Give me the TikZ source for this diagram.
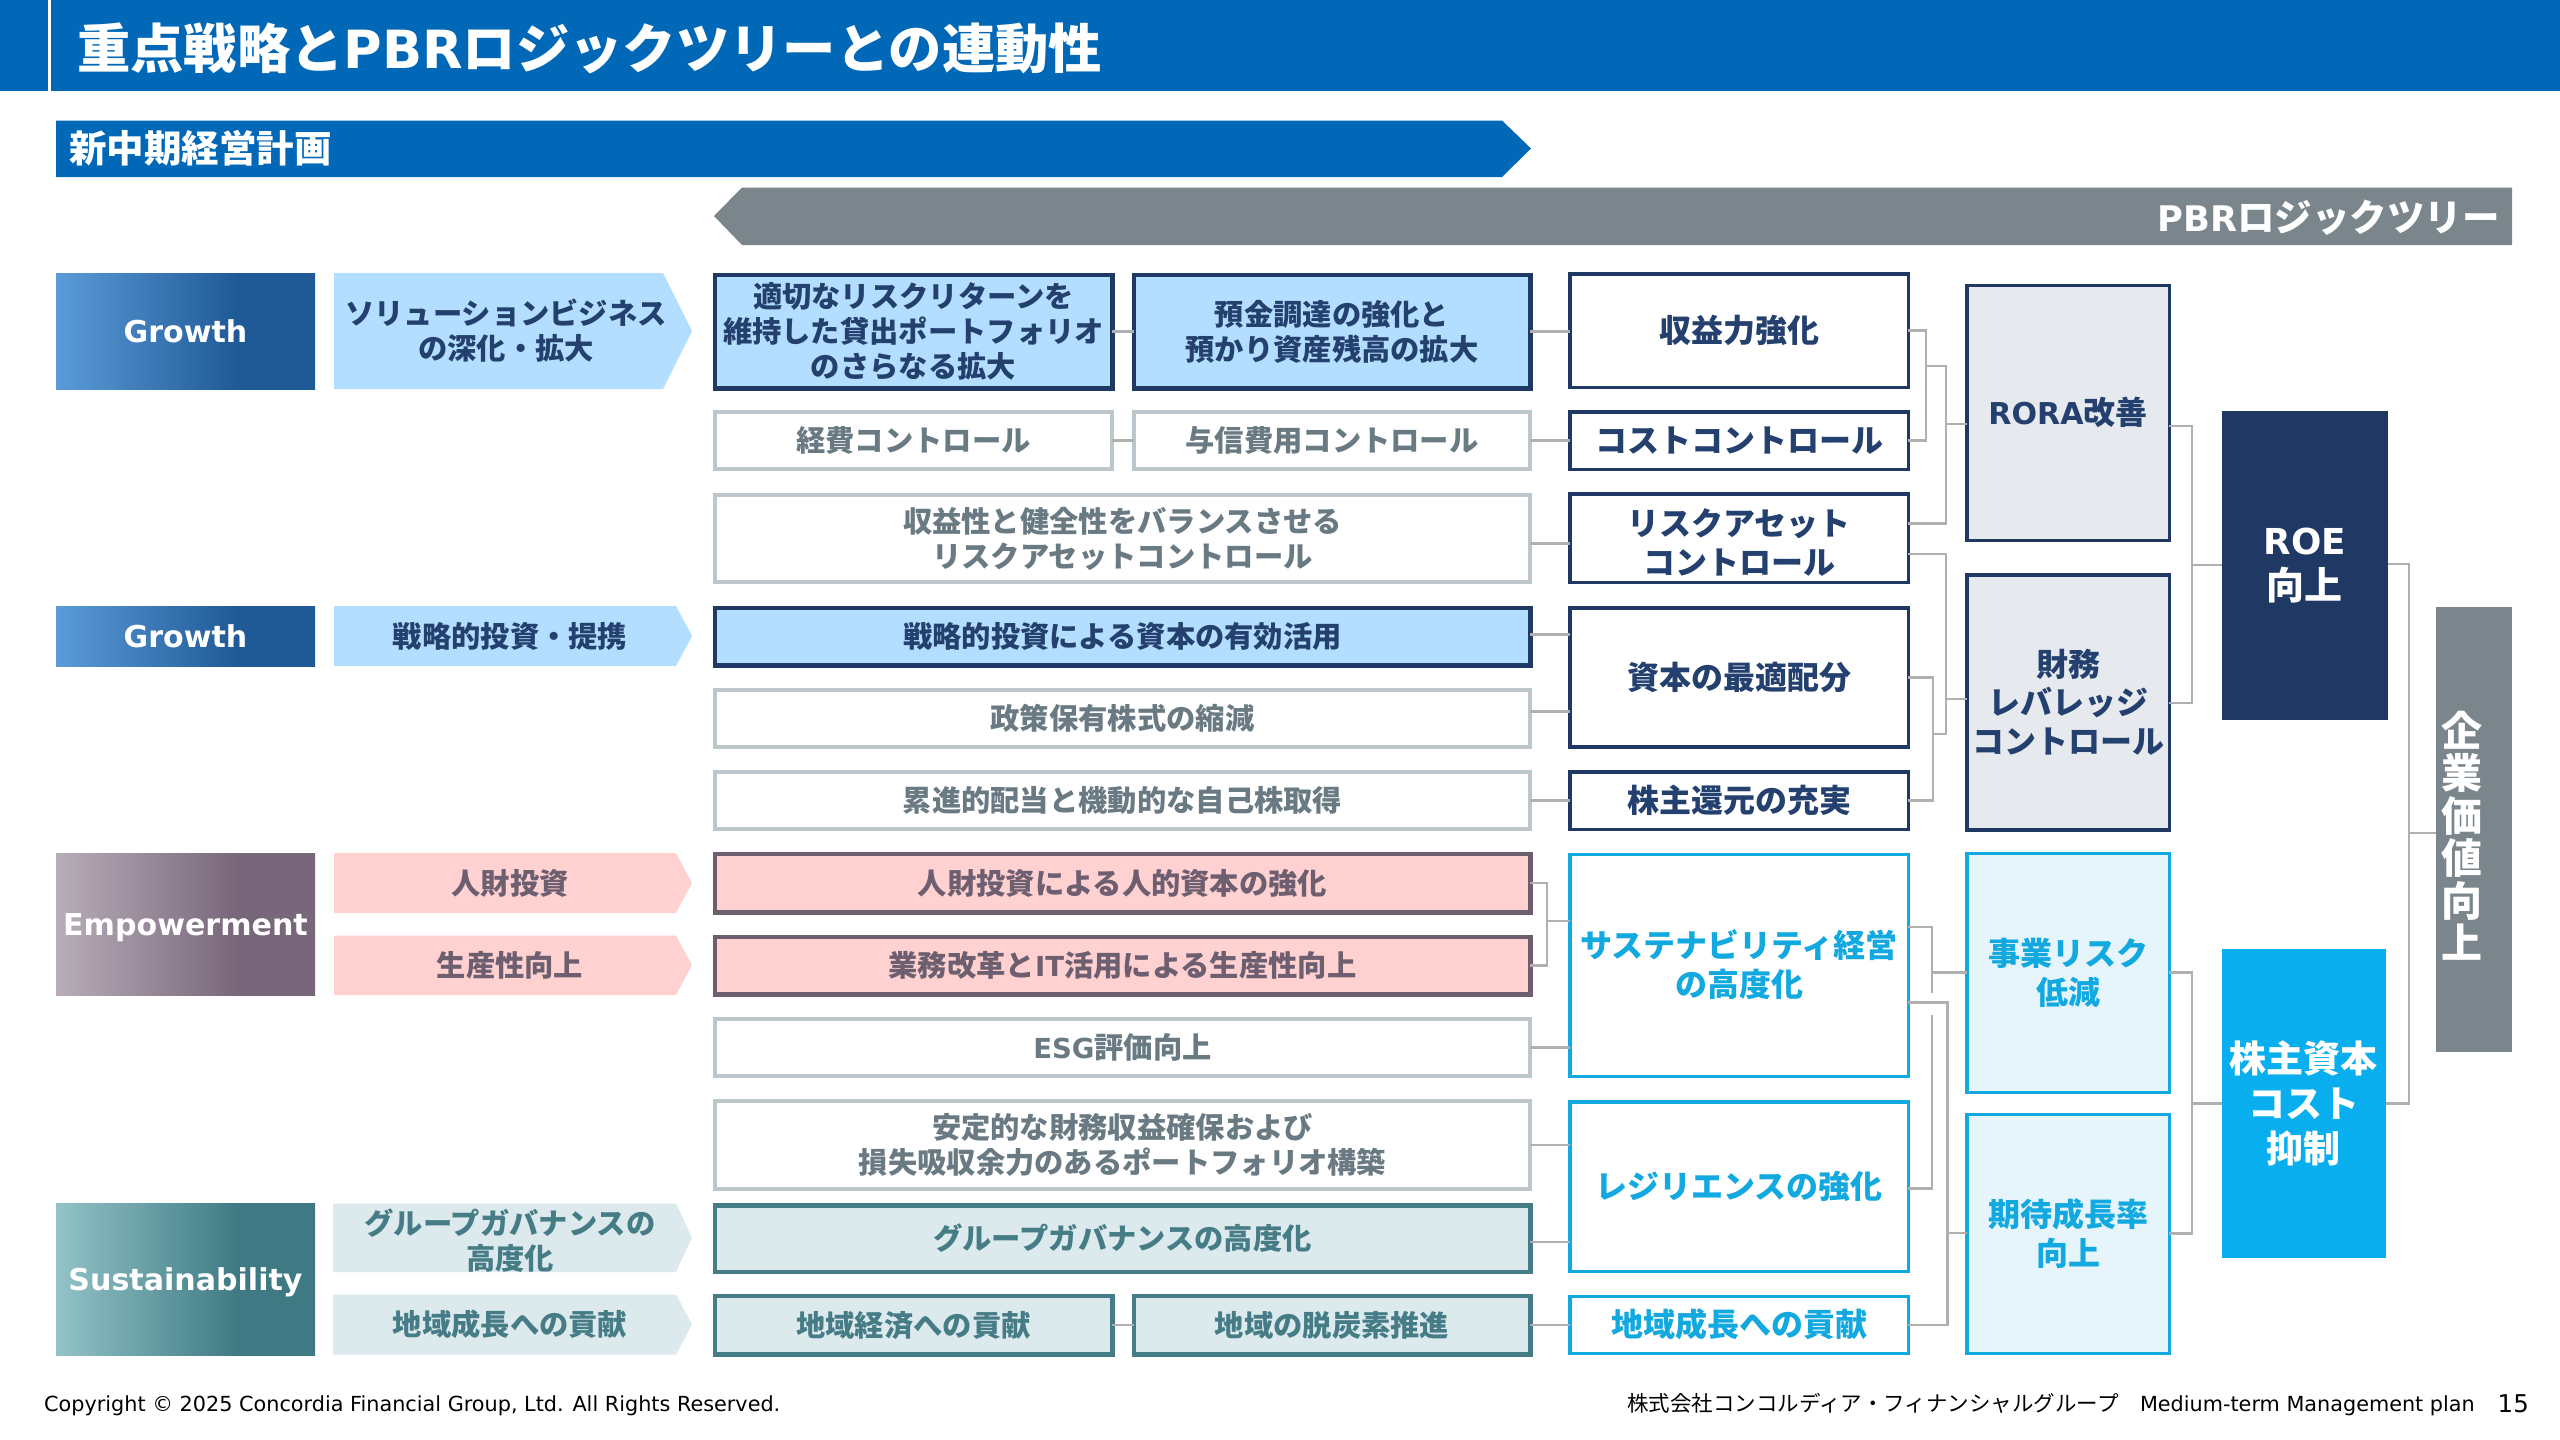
\documentclass[tikz,border=0pt]{standalone}
\usepackage{fontspec}
\setmainfont{Noto Sans CJK JP}
\newfontfamily\lat[Scale=0.94]{DejaVu Sans}
\definecolor{tblue}{HTML}{0068B7}
\definecolor{arrgray}{HTML}{7A868C}
\definecolor{navy}{HTML}{1F3864}
\definecolor{lblue}{HTML}{B3DEFF}
\definecolor{cyanb}{HTML}{09AEEE}
\definecolor{cyant}{HTML}{12A8E0}
\definecolor{lcyan}{HTML}{E6F5FB}
\definecolor{lgray}{HTML}{E6EAEE}
\definecolor{gline}{HTML}{BDC7CB}
\definecolor{gtext}{HTML}{6A7A83}
\definecolor{conn}{HTML}{B0B0B0}
\definecolor{pinkf}{HTML}{FFD1D1}
\definecolor{pinkl}{HTML}{6E5F70}
\definecolor{tealf}{HTML}{DCE9ED}
\definecolor{teall}{HTML}{457C86}
\definecolor{navytext}{HTML}{24406E}
\definecolor{gA}{HTML}{5B9BD9}\definecolor{gB}{HTML}{1F5A96}
\definecolor{eA}{HTML}{B8ADB9}\definecolor{eB}{HTML}{78677A}
\definecolor{sA}{HTML}{92C3C7}\definecolor{sB}{HTML}{3F7A84}
\pgfdeclarehorizontalshading{shG}{100bp}{color(0bp)=(gA);color(25bp)=(gA);color(60bp)=(gB);color(100bp)=(gB)}
\pgfdeclarehorizontalshading{shE}{100bp}{color(0bp)=(eA);color(25bp)=(eA);color(60bp)=(eB);color(100bp)=(eB)}
\pgfdeclarehorizontalshading{shS}{100bp}{color(0bp)=(sA);color(25bp)=(sA);color(60bp)=(sB);color(100bp)=(sB)}
\newcommand{\fs}[2]{\fontsize{#1}{#2}\selectfont\bfseries}
% style, name, x1, y1, x2, y2, text (outer edges; drawn lines lie inside)
\newcommand{\bx}[7]{%
 \pgfmathsetmacro\bxcx{(#3+#5)/2}\pgfmathsetmacro\bxcy{(#4+#6)/2}%
 \pgfmathsetmacro\bxw{#5-#3-3.5}\pgfmathsetmacro\bxh{#6-#4-3.5}%
 \node[#1,minimum width=\bxw pt,minimum height=\bxh pt] (#2) at (\bxcx,\bxcy) {#7};}
% name, x1, y1, shoulder, x2, y2, fill, text colour, text position, then the text
\newcommand{\chev}[9]{%
 \pgfmathsetmacro\bxcy{(#3+#6)/2}%
 \fill[#7] (#2,#3) -- (#4,#3) -- (#5,\bxcy) -- (#4,#6) -- (#2,#6) -- cycle;
 \node[chevtxt,text=#8] (#1) at (#9)}
\tikzset{
 x=1pt,y=-1pt,
 base/.style={align=center,inner sep=0pt,outer sep=0pt,line width=3.5pt},
 chevtxt/.style={align=center,inner sep=0pt,font=\fs{29.3}{35}},
 grad/.style={base,text=white,font=\fs{32}{38},text height=22pt,text depth=0pt},
 mid/.style={base,font=\fs{29.3}{35}},
 gbox/.style={mid,draw=gline,fill=white,text=gtext,line width=4pt},
 bbox/.style={mid,draw=navy,fill=lblue,text=navytext,line width=4.5pt},
 pbox/.style={mid,draw=pinkl,fill=pinkf,text=pinkl,line width=4.5pt},
 tbox/.style={mid,draw=teall,fill=tealf,text=teall,line width=4.5pt},
 kbox/.style={base,font=\fs{32}{39},draw=navy,fill=white,text=navytext},
 cbox/.style={base,font=\fs{32}{39},draw=cyant,fill=white,text=cyant},
 rbox/.style={base,font=\fs{32}{38.5},draw=navy,fill=lgray,text=navytext},
 ebox/.style={base,font=\fs{32}{39},draw=cyant,fill=lcyan,text=cyant},
 ln/.style={draw=conn,line width=2.5pt},
 foot/.style={inner sep=0pt,text=black,font=\fontsize{21.5}{26}\selectfont},
}
\begin{document}
\begin{tikzpicture}
\useasboundingbox (0,0) rectangle (2560,1440);
\fill[white] (0,0) rectangle (2560,1440);
% title
\fill[tblue] (0,0) rectangle (2560,91);
\fill[white] (48,0) rectangle (50.5,91);
\node[anchor=west,inner sep=0pt,text=white,font=\fs{53.3}{60}] (title) at (77,48) {重点戦略と{\fontsize{56}{60}\lat PBR}ロジックツリーとの連動性};
% header arrows
\fill[tblue] (56,120.5) -- (1502,120.5) -- (1531,148.5) -- (1502,177) -- (56,177) -- cycle;
\node[anchor=west,inner sep=0pt,text=white,font=\fs{37.5}{42}] (h1) at (69,148.5) {新中期経営計画};
\fill[arrgray] (714,216) -- (742,187.5) -- (2512,187.5) -- (2512,245) -- (742,245) -- cycle;
\node[anchor=east,inner sep=0pt,text=white,font=\fs{37.5}{42}] (h2) at (2500,217.5) {{\lat PBR}ロジックツリー};
% gradient boxes
\node[grad,shading=shG,minimum width=259pt,minimum height=116pt] (g1) at (185.5,331) {{\lat Growth}};
\node[grad,shading=shG,minimum width=259pt,minimum height=60pt] (g2) at (185.5,636) {{\lat Growth}};
\node[grad,shading=shE,minimum width=259pt,minimum height=142pt] (g3) at (185.5,924) {{\lat Empowerment}};
\node[grad,shading=shS,minimum width=259pt,minimum height=151.5pt] (g4) at (185.5,1279.5) {{\lat Sustainability}};
% chevrons
\chev{c1}{334}{273}{663}{692}{389}{lblue}{navytext}{506,331}{ソリューションビジネス\\の深化・拡大};
\chev{c2}{334}{606}{676}{692}{666}{lblue}{navytext}{510,636}{戦略的投資・提携};
\chev{c3}{334}{853}{676}{692}{913}{pinkf}{pinkl}{510,883}{人財投資};
\chev{c4}{334}{935.5}{676}{692}{995}{pinkf}{pinkl}{510,965}{生産性向上};
\chev{c5}{333}{1203.5}{676}{692}{1272}{tealf}{teall}{510,1241}{グループガバナンスの\\高度化};
\chev{c6}{333}{1294.5}{676}{692}{1354.5}{tealf}{teall}{510,1324.5}{地域成長への貢献};
% middle boxes
\bx{bbox}{a1}{713}{273}{1114}{390}{適切なリスクリターンを\\維持した貸出ポートフォリオ\\のさらなる拡大}
\bx{bbox}{a2}{1132}{273}{1532}{390}{預金調達の強化と\\預かり資産残高の拡大}
\bx{gbox}{a3}{713}{410}{1114}{471}{経費コントロール}
\bx{gbox}{a4}{1132}{410}{1532}{471}{与信費用コントロール}
\bx{gbox}{a5}{713}{493}{1532}{584}{収益性と健全性をバランスさせる\\リスクアセットコントロール}
\bx{bbox}{a6}{713}{606}{1532}{667}{戦略的投資による資本の有効活用}
\bx{gbox}{a7}{713}{688}{1532}{749}{政策保有株式の縮減}
\bx{gbox}{a8}{713}{770}{1532}{831}{累進的配当と機動的な自己株取得}
\bx{pbox}{a9}{713}{852}{1532}{914}{人財投資による人的資本の強化}
\bx{pbox}{a10}{713}{935}{1532}{996}{業務改革と{\lat IT}活用による生産性向上}
\bx{gbox}{a11}{713}{1017}{1532}{1078}{{\lat ESG}評価向上}
\bx{gbox}{a12}{713}{1099}{1532}{1191}{安定的な財務収益確保および\\損失吸収余力のあるポートフォリオ構築}
\bx{tbox}{a13}{713}{1203.5}{1532}{1273.5}{グループガバナンスの高度化}
\bx{tbox}{a14}{713}{1294}{1114}{1356}{地域経済への貢献}
\bx{tbox}{a15}{1132}{1294}{1532}{1356}{地域の脱炭素推進}
% key driver boxes
\bx{kbox}{k1}{1568}{272}{1910}{389}{収益力強化}
\bx{kbox}{k2}{1568}{410}{1910}{471}{コストコントロール}
\bx{kbox}{k3}{1568}{492}{1910}{584}{}
\node[base,font=\fs{32}{39},text=navytext] (k3t) at (1739,543) {リスクアセット\\コントロール};
\bx{kbox}{k4}{1568}{606}{1910}{748.5}{資本の最適配分}
\bx{kbox}{k5}{1568}{770}{1910}{831}{株主還元の充実}
\bx{cbox}{k6}{1568}{852.5}{1910}{1078}{}
\node[base,font=\fs{32}{39},text=cyant] (k6t) at (1739,964.5) {サステナビリティ経営\\の高度化};
\bx{cbox}{k7}{1568}{1100}{1910}{1273}{レジリエンスの強化}
\bx{cbox}{k8}{1568}{1294.5}{1910}{1355}{地域成長への貢献}
% second level
\bx{rbox}{r1}{1965}{283.5}{2171}{542}{{\lat RORA}改善}
\bx{rbox}{r2}{1965}{573}{2171}{831.5}{財務\\レバレッジ\\コントロール}
\bx{ebox}{r3}{1965}{851.6}{2171}{1094}{事業リスク\\低減}
\bx{ebox}{r4}{1965}{1112.6}{2171}{1355}{期待成長率\\向上}
% top level
\node[base,line width=0pt,fill=navy,text=white,font=\fs{38}{45},minimum width=166.5pt,minimum height=309pt] (t1) at (2304.75,565.5) {{\lat ROE}\\向上};
\node[base,line width=0pt,fill=cyanb,text=white,font=\fs{37}{45},minimum width=164.5pt,minimum height=309pt] (t2) at (2303.75,1103.5) {株主資本\\コスト\\抑制};
\node[base,line width=0pt,fill=arrgray,minimum width=76pt,minimum height=445pt] (v) at (2474,829.5) {};
\node[inner sep=0pt,align=center,text=white,font=\fs{41}{42.5}] (vt) at (2462,836) {企\\業\\価\\値\\向\\上};
% connectors: middle to key drivers
\draw[ln] (a1.east) -- (a2.west);
\draw[ln] (a3.east) -- (a4.west);
\draw[ln] (a14.east) -- (a15.west);
\draw[ln] (a2.east) -- (a2.east -| k1.west);
\draw[ln] (a4.east) -- (a4.east -| k2.west);
\coordinate (a5o) at ([yshift=-5pt]a5.east);
\draw[ln] (a5o) -- (a5o -| k3.west);
\coordinate (a6o) at ([yshift=2pt]a6.east);
\draw[ln] (a6o) -- (a6o -| k4.west);
\coordinate (a7o) at ([yshift=7pt]a7.east);
\draw[ln] (a7o) -- (a7o -| k4.west);
\draw[ln] (a8.east) -- (a8.east -| k5.west);
\coordinate (pb) at (1547,921);
\draw[ln] (a9.east) -- (a9.east -| pb) -- (a10.east -| pb) -- (a10.east);
\draw[ln] (pb) -- (pb -| k6.west);
\draw[ln] (a11.east) -- (a11.east -| k6.west);
\draw[ln] (a12.east) -- (a12.east -| k7.west);
\coordinate (a13o) at ([yshift=-3.5pt]a13.east);
\draw[ln] (a13o) -- (a13o -| k7.west);
\draw[ln] (a15.east) -- (a15.east -| k8.west);
% connectors: key drivers to second level
\coordinate (b1) at (1926,366);
\coordinate (b2) at (1946,366);
\coordinate (b2r) at (1946,424);
\coordinate (k3u) at ([yshift=14.5pt]k3.east);
\coordinate (k3d) at ([yshift=-16pt]k3.east);
\draw[ln] (k1.east) -- (k1.east -| b1) -- (k2.east -| b1) -- (k2.east);
\draw[ln] (b1) -- (b2) -- (b2 |- k3u) -- (k3u);
\draw[ln] (b2r) -- (b2r -| r1.west);
\coordinate (b3) at (1933,734);
\coordinate (b4) at (1946,734);
\coordinate (b4r) at (1946,699);
\draw[ln] (k4.east) -- (k4.east -| b3) -- (k5.east -| b3) -- (k5.east);
\draw[ln] (b3) -- (b4) -- (b4 |- k3d) -- (k3d);
\draw[ln] (b4r) -- (b4r -| r2.west);
\coordinate (b5) at (1932,927);
\coordinate (b5r) at (1932,972.6);
\coordinate (b5g) at (1932,993);
\coordinate (b5h) at (1932,1015);
\coordinate (b5e) at (1932,1188.5);
\coordinate (b6t) at (1947.6,1002.7);
\coordinate (b6r) at (1947.6,1233);
\draw[ln] (b5 -| k6.east) -- (b5) -- (b5g);
\draw[ln] (b5h) -- (b5e) -- (b5e -| k7.east);
\draw[ln] (b5r) -- (b5r -| r3.west);
\draw[ln] (b6t -| k6.east) -- (b6t) -- (b6t |- k8.east) -- (k8.east);
\draw[ln] (b6r) -- (b6r -| r4.west);
% connectors: second level to top level
\coordinate (c1a) at (2192,426);
\coordinate (c1b) at (2192,703);
\coordinate (c1c) at (2192,565);
\draw[ln] (c1a -| r1.east) -- (c1a) -- (c1b) -- (c1b -| r2.east);
\draw[ln] (c1c) -- (c1c -| t1.west);
\coordinate (c2a) at (2192,972.6);
\coordinate (c2b) at (2192,1233.6);
\coordinate (c2c) at (2192,1103.5);
\draw[ln] (c2a -| r3.east) -- (c2a) -- (c2b) -- (c2b -| r4.east);
\draw[ln] (c2c) -- (c2c -| t2.west);
\coordinate (d1) at (2409,564);
\coordinate (d2) at (2409,1103.5);
\coordinate (d3) at (2409,833);
\draw[ln] (t1.east |- d1) -- (d1) -- (d2) -- (t2.east |- d2);
\draw[ln] (d3) -- (d3 -| v.west);
% footer
\node[foot,anchor=west] (f1) at (44,1405.5) {{\fontsize{22.1}{26}\lat Copyright © 2025 Concordia Financial Group, Ltd. All Rights Reserved.}};
\node[foot,anchor=east] (f2) at (2475,1404) {株式会社コンコルディア・フィナンシャルグループ\quad{\fontsize{22.1}{26}\lat Medium-term Management plan}};
\node[foot,anchor=east] (f3) at (2529,1404) {{\fontsize{26}{30}\lat 15}};
\end{tikzpicture}
\end{document}
